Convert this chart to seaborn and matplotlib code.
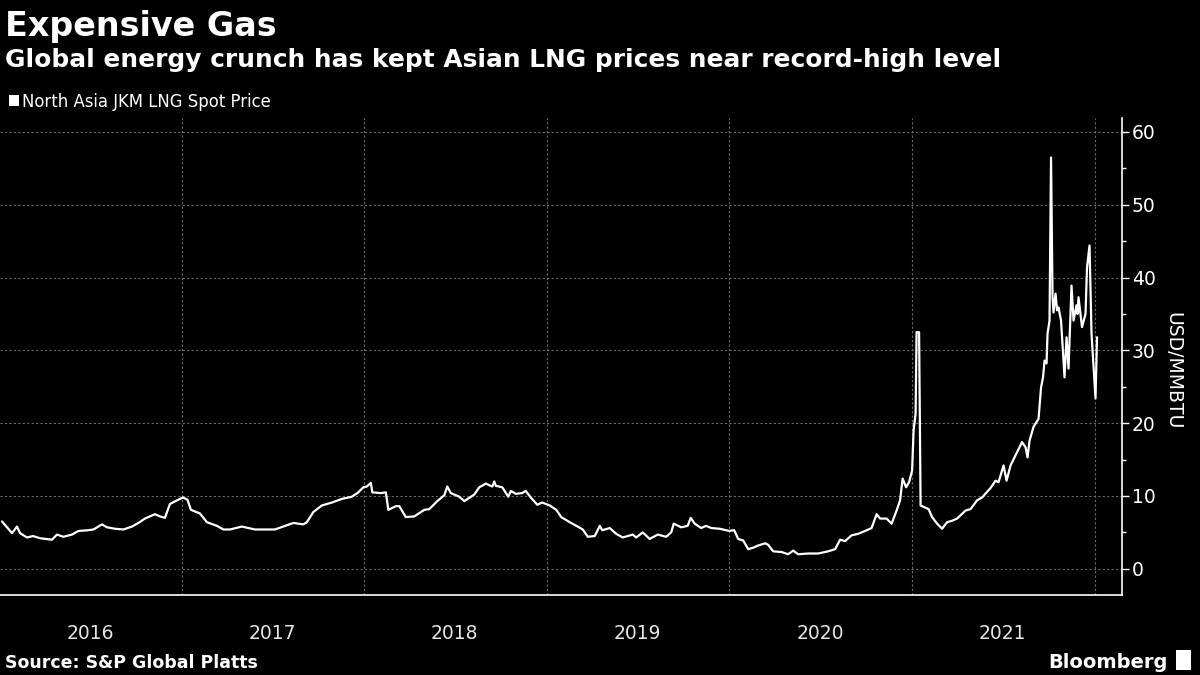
import matplotlib
matplotlib.use("Agg")
import matplotlib.pyplot as plt
import matplotlib.dates as mdates
import matplotlib.ticker as mticker
from matplotlib.patches import Rectangle
import pandas as pd
import seaborn as sns

# JKM spot price, USD/MMBTU
dates = [
    "2016-01-07", "2016-01-17", "2016-01-27", "2016-02-06", "2016-02-12", "2016-02-26",
    "2016-03-09", "2016-03-23", "2016-04-16", "2016-04-26", "2016-05-09", "2016-05-26",
    "2016-06-08", "2016-06-28", "2016-07-08", "2016-07-25", "2016-08-04", "2016-08-20",
    "2016-09-06", "2016-09-23", "2016-10-06", "2016-10-19", "2016-11-08", "2016-11-18",
    "2016-11-28", "2016-12-08", "2016-12-22",
    "2017-01-03", "2017-01-12", "2017-01-19", "2017-02-06", "2017-02-20", "2017-03-12",
    "2017-03-25", "2017-04-07", "2017-05-01", "2017-05-27", "2017-07-06", "2017-08-12",
    "2017-09-01", "2017-09-08", "2017-09-21", "2017-10-08", "2017-10-28", "2017-11-17",
    "2017-12-07", "2017-12-20", "2017-12-30",
    "2018-01-06", "2018-01-14", "2018-01-17", "2018-02-03", "2018-02-13", "2018-02-18",
    "2018-03-05", "2018-03-12", "2018-03-25", "2018-04-11", "2018-05-01", "2018-05-11",
    "2018-05-27", "2018-06-10", "2018-06-16", "2018-06-23", "2018-06-30", "2018-07-10",
    "2018-07-20", "2018-08-09", "2018-08-19", "2018-09-01", "2018-09-14", "2018-09-18",
    "2018-09-21", "2018-10-04", "2018-10-16", "2018-10-21", "2018-10-31", "2018-11-13",
    "2018-11-20", "2018-11-30", "2018-12-13", "2018-12-23",
    "2019-01-07", "2019-01-20", "2019-01-30", "2019-02-16", "2019-03-04", "2019-03-14",
    "2019-03-24", "2019-04-07", "2019-04-17", "2019-04-22", "2019-05-07", "2019-05-20",
    "2019-06-02", "2019-06-22", "2019-06-29", "2019-07-12", "2019-07-26", "2019-08-11",
    "2019-08-28", "2019-09-07", "2019-09-12", "2019-09-27", "2019-10-10", "2019-10-16",
    "2019-10-24", "2019-11-06", "2019-11-16", "2019-11-26", "2019-12-13",
    "2020-01-01", "2020-01-11", "2020-01-19", "2020-01-29", "2020-02-08", "2020-02-18",
    "2020-02-28", "2020-03-13", "2020-03-19", "2020-03-29", "2020-04-15", "2020-04-28",
    "2020-05-08", "2020-05-18", "2020-06-07", "2020-06-27", "2020-07-17", "2020-07-31",
    "2020-08-10", "2020-08-20", "2020-09-02", "2020-09-15", "2020-09-29", "2020-10-12",
    "2020-10-22", "2020-10-29", "2020-11-11", "2020-11-21", "2020-12-01", "2020-12-08",
    "2020-12-13", "2020-12-20", "2020-12-26",
    "2021-01-01", "2021-01-04", "2021-01-08", "2021-01-10", "2021-01-15", "2021-01-18",
    "2021-01-24", "2021-02-03", "2021-02-10", "2021-02-20", "2021-03-02", "2021-03-12",
    "2021-03-22", "2021-04-01", "2021-04-18", "2021-04-28", "2021-05-11", "2021-05-21",
    "2021-06-07", "2021-06-17", "2021-06-23", "2021-07-03", "2021-07-09", "2021-07-17",
    "2021-07-30", "2021-08-09", "2021-08-16", "2021-08-20", "2021-08-24", "2021-09-01",
    "2021-09-11", "2021-09-16", "2021-09-20", "2021-09-23", "2021-09-27", "2021-09-29",
    "2021-10-03", "2021-10-06", "2021-10-09", "2021-10-11", "2021-10-15", "2021-10-18",
    "2021-10-21", "2021-10-26", "2021-11-02", "2021-11-06", "2021-11-10", "2021-11-16",
    "2021-11-20", "2021-11-26", "2021-11-28", "2021-11-30", "2021-12-07", "2021-12-14",
    "2021-12-17", "2021-12-22", "2021-12-26",
    "2022-01-03", "2022-01-06",
]
prices = [
    6.5, 5.7, 4.9, 5.8, 4.9, 4.3,
    4.5, 4.2, 4.0, 4.7, 4.4, 4.7,
    5.2, 5.3, 5.4, 6.1, 5.7, 5.5,
    5.4, 5.8, 6.3, 6.9, 7.5, 7.2,
    7.0, 8.9, 9.4,
    9.8, 9.5, 8.1, 7.6, 6.4, 5.9,
    5.4, 5.4, 5.8, 5.4, 5.4, 6.3,
    6.1, 6.4, 7.8, 8.7, 9.1, 9.6,
    9.9, 10.5, 11.2,
    11.3, 11.8, 10.5, 10.4, 10.5, 8.1,
    8.6, 8.6, 7.1, 7.2, 8.1, 8.2,
    9.3, 10.1, 11.3, 10.4, 10.2, 9.9,
    9.3, 10.2, 11.2, 11.7, 11.3, 12.0,
    11.4, 11.2, 9.9, 10.7, 10.3, 10.4,
    10.7, 9.8, 8.8, 9.1,
    8.7, 8.1, 7.1, 6.4, 5.8, 5.4,
    4.4, 4.5, 5.9, 5.3, 5.6, 4.8,
    4.3, 4.7, 4.3, 5.0, 4.1, 4.7,
    4.4, 5.0, 6.2, 5.7, 5.9, 7.0,
    6.2, 5.6, 5.9, 5.6, 5.5,
    5.2, 5.3, 4.1, 3.9, 2.7, 2.9,
    3.2, 3.5, 3.3, 2.4, 2.3, 2.0,
    2.5, 2.0, 2.1, 2.1, 2.4, 2.7,
    4.0, 3.8, 4.6, 4.8, 5.2, 5.6,
    7.5, 6.9, 6.9, 6.2, 8.0, 9.4,
    12.4, 11.2, 11.9,
    13.5, 19.0, 21.3, 32.5, 32.5, 8.7,
    8.5, 8.2, 7.1, 6.2, 5.5, 6.4,
    6.6, 6.9, 8.0, 8.2, 9.4, 9.8,
    11.1, 12.1, 11.9, 14.2, 12.1, 14.2,
    16.0, 17.4, 16.7, 15.3, 17.6, 19.5,
    20.6, 24.9, 26.3, 28.6, 28.2, 32.3,
    34.1, 56.5, 37.3, 35.2, 37.8, 35.5,
    35.9, 34.1, 26.3, 31.8, 27.5, 38.9,
    34.1, 36.2, 35.0, 37.3, 33.2, 35.0,
    41.4, 44.4, 32.3,
    23.4, 31.8,
]
series_name = "North Asia JKM LNG Spot Price"
y_ticks = [0, 10, 20, 30, 40, 50, 60]

df = pd.DataFrame({"date": pd.to_datetime(dates), "price": prices})

sns.set_style("dark", {"axes.facecolor": "black", "figure.facecolor": "black"})
plt.rcParams['font.family'] = ['DejaVu Sans']

fig = plt.figure(figsize=(12, 6.75), dpi=100, facecolor="black")
ax = fig.add_axes([0.0, 0.1185, 0.935, 0.7065])
ax.set_facecolor("black")

sns.lineplot(data=df, x="date", y="price", ax=ax, color="white", linewidth=1.6)

ax.set_xlim(pd.Timestamp("2016-01-03"), pd.Timestamp("2022-02-25"))
ax.set_ylim(-3.6, 61.9)

# y axis on the right
ax.yaxis.tick_right()
ax.yaxis.set_label_position("right")
ax.set_yticks(y_ticks)
ax.yaxis.set_minor_locator(mticker.MultipleLocator(5))
ax.tick_params(axis="y", which="major", direction="out", length=5, width=1,
               color="white", labelcolor="white", labelsize=13.5, pad=2)
ax.tick_params(axis="y", which="minor", direction="out", length=3, width=1, color="white")
ax.set_ylabel("USD/MMBTU", color="white", fontsize=13.5, rotation=270)
ax.yaxis.set_label_coords(1.054, 0.47)

# x axis: year separators + quarterly ticks, year labels at mid-year
ax.xaxis.set_major_locator(mdates.YearLocator())
ax.xaxis.set_major_formatter(mticker.NullFormatter())
ax.xaxis.set_minor_locator(mdates.MonthLocator(bymonth=[4, 7, 10]))
ax.xaxis.set_minor_formatter(mticker.FuncFormatter(
    lambda v, pos: str(mdates.num2date(v).year) if mdates.num2date(v).month == 7 else ""))
ax.tick_params(axis="x", which="major", direction="out", length=36, width=1, color="#6e6e6e")
ax.tick_params(axis="x", which="minor", direction="out", length=4, width=1, color="white",
               labelcolor="#e6e6e6", labelsize=13.5, pad=17)
ax.set_xlabel("")

ax.grid(which="major", axis="both", color="#6a6a6a", linestyle=(0, (2, 2)), linewidth=0.8)
ax.grid(which="minor", visible=False)

for side in ["left", "top"]:
    ax.spines[side].set_visible(False)
for side in ["right", "bottom"]:
    ax.spines[side].set_visible(True)
    ax.spines[side].set_color("white")
    ax.spines[side].set_linewidth(1.2)
if ax.get_legend():
    ax.get_legend().remove()

# titles
fig.text(0.004, 0.9467, "Expensive Gas", color="white", fontsize=24, fontweight="bold",
         va="baseline", ha="left")
fig.text(0.004, 0.9007, "Global energy crunch has kept Asian LNG prices near record-high level",
         color="white", fontsize=17.9, fontweight="bold", va="baseline", ha="left")

# legend
fig.patches.append(Rectangle((9 / 1200, 1 - 106 / 675), 10 / 1200, 11 / 675,
                             transform=fig.transFigure, facecolor="white", edgecolor="none"))
fig.text(22 / 1200, 1 - 107 / 675, series_name, color="white", fontsize=11.9,
         va="baseline", ha="left")

# footer
fig.text(0.004, 1 - 668 / 675, "Source: S&P Global Platts", color="white", fontsize=12.5,
         fontweight="bold", va="baseline", ha="left")
fig.text(1168 / 1200, 1 - 668 / 675, "Bloomberg", color="white", fontsize=14,
         fontweight="bold", va="baseline", ha="right")
fig.patches.append(Rectangle((1176 / 1200, 1 - 670 / 675), 15 / 1200, 20 / 675,
                             transform=fig.transFigure, facecolor="white", edgecolor="none"))

fig.savefig("out.png", dpi=100, facecolor="black")
